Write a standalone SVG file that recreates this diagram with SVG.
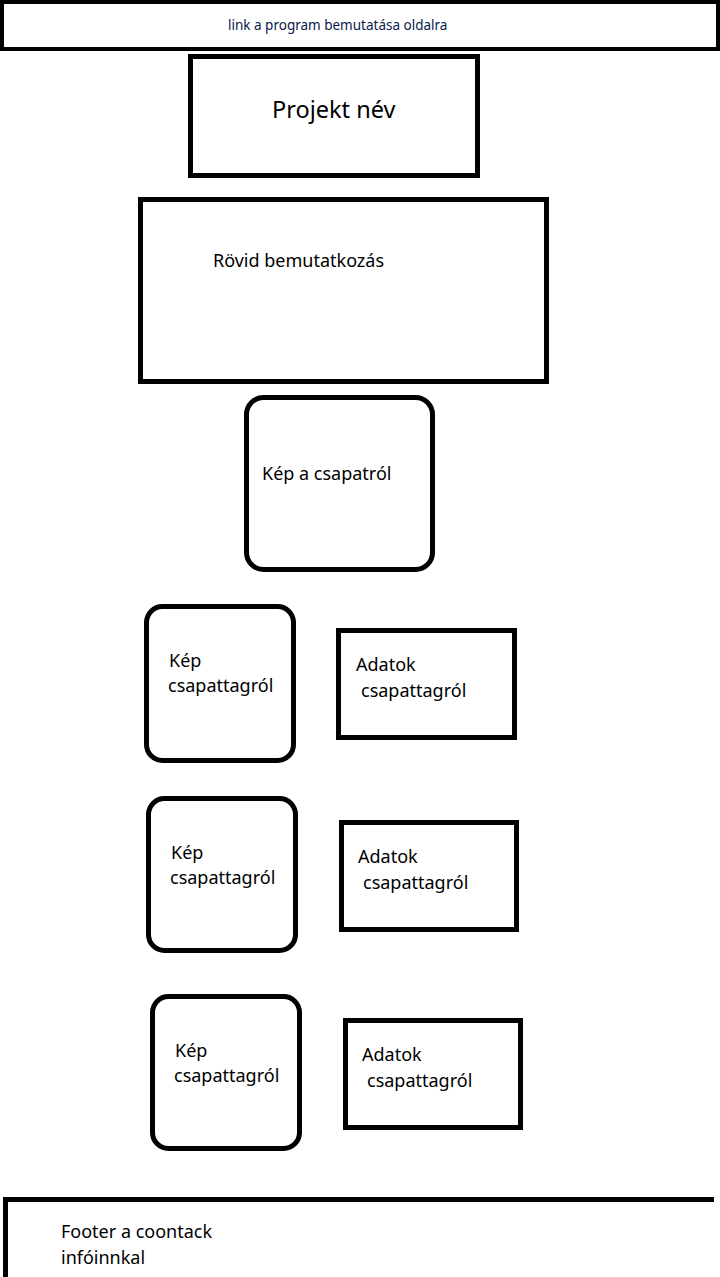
<svg xmlns="http://www.w3.org/2000/svg" width="720" height="1277" viewBox="0 0 720 1277">
  <style>
    .box { fill: #ffffff; stroke: #000000; stroke-width: 5; }
    .thin { fill: #ffffff; stroke: #000000; stroke-width: 4; }
    .lbl { font-family: "Noto Sans", "Open Sans", sans-serif; font-size: 18px; fill: #000000; }
    .link { font-family: "Noto Sans", "Open Sans", sans-serif; font-size: 13.5px; fill: #0a1a4a; }
    .title { font-family: "Noto Sans", "Open Sans", sans-serif; font-size: 23.5px; fill: #000000; }
  </style>
  <rect width="720" height="1277" fill="#ffffff"/>

  <!-- top navigation bar -->
  <g id="nav-link">
    <rect class="thin" x="2" y="2" width="716" height="47"/>
    <text class="link" x="228" y="30">link a program bemutatása oldalra</text>
  </g>

  <!-- project title -->
  <g id="project-name">
    <rect class="box" x="190.5" y="56.5" width="287" height="119"/>
    <text class="title" x="272" y="118">Projekt név</text>
  </g>

  <!-- short introduction -->
  <g id="intro">
    <rect class="box" x="140.5" y="199.5" width="406" height="182"/>
    <text class="lbl" x="213" y="267">Rövid bemutatkozás</text>
  </g>

  <!-- team photo -->
  <g id="team-photo">
    <rect class="box" x="246.5" y="397.5" width="186" height="172" rx="17"/>
    <text class="lbl" x="262" y="480">Kép a csapatról</text>
  </g>

  <!-- team member 1 -->
  <g id="member1-photo">
    <rect class="box" x="146.5" y="606.5" width="147" height="154" rx="16"/>
    <text class="lbl" x="169" y="667">Kép</text>
    <text class="lbl" x="168" y="692">csapattagról</text>
  </g>
  <g id="member1-data">
    <rect class="box" x="338.5" y="630.5" width="176" height="107"/>
    <text class="lbl" x="356" y="671">Adatok</text>
    <text class="lbl" x="361" y="697">csapattagról</text>
  </g>

  <!-- team member 2 -->
  <g id="member2-photo">
    <rect class="box" x="148.5" y="798.5" width="147" height="152" rx="16"/>
    <text class="lbl" x="171" y="859">Kép</text>
    <text class="lbl" x="170" y="884">csapattagról</text>
  </g>
  <g id="member2-data">
    <rect class="box" x="341.5" y="822.5" width="175" height="107"/>
    <text class="lbl" x="358" y="863">Adatok</text>
    <text class="lbl" x="363" y="889">csapattagról</text>
  </g>

  <!-- team member 3 -->
  <g id="member3-photo">
    <rect class="box" x="152.5" y="996.5" width="147" height="152" rx="16"/>
    <text class="lbl" x="175" y="1057">Kép</text>
    <text class="lbl" x="174" y="1082">csapattagról</text>
  </g>
  <g id="member3-data">
    <rect class="box" x="345.5" y="1020.5" width="175" height="107"/>
    <text class="lbl" x="362" y="1061">Adatok</text>
    <text class="lbl" x="367" y="1087">csapattagról</text>
  </g>

  <!-- footer -->
  <g id="footer">
    <path d="M5.5 1280 V1199.5 H714" fill="none" stroke="#000000" stroke-width="5"/>
    <text class="lbl" x="61" y="1238">Footer a coontack</text>
    <text class="lbl" x="61" y="1264">infóinnkal</text>
  </g>

  <g id="connectors"></g>
</svg>
